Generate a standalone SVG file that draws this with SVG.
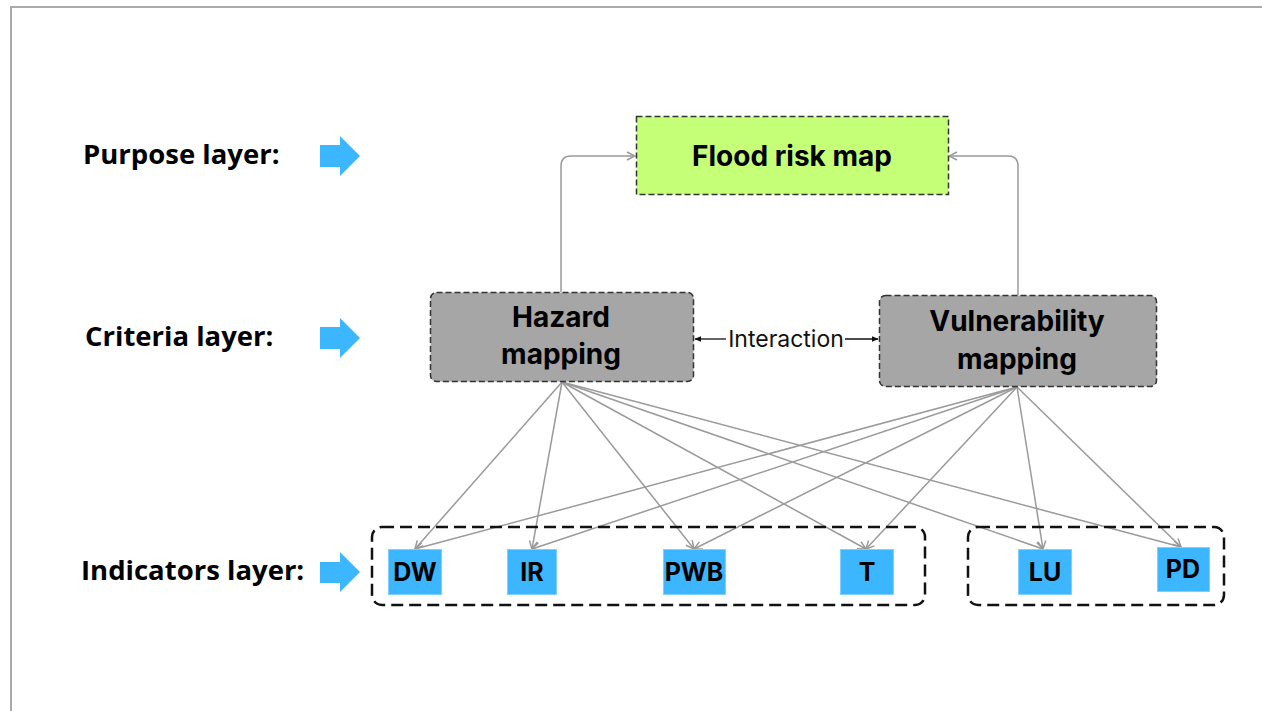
<svg xmlns="http://www.w3.org/2000/svg" width="1262" height="711" viewBox="0 0 1262 711">
  <style>
    .layer { font-family: "Open Sans", "Noto Sans", sans-serif; font-weight: 700; font-size: 27.5px; fill: #000; }
    .boxtxt { font-family: Inter, "Liberation Sans", sans-serif; font-weight: 700; font-size: 28px; fill: #000; text-anchor: middle; }
    .ind { fill: #3bb6ff; stroke: #7fd0ff; stroke-width: 1; }
    .indtxt { font-family: Inter, "Liberation Sans", sans-serif; font-weight: 700; font-size: 25px; fill: #000; text-anchor: middle; }
    .crit { fill: #a6a6a6; stroke: #333; stroke-width: 1.5; stroke-dasharray: 6 3; }
    .group { fill: none; stroke: #111; stroke-width: 2.5; stroke-dasharray: 12 6; }
    .link { fill: none; stroke: #9a9a9a; stroke-width: 1.5; marker-end: url(#grayHead); }
    .inter { fill: none; stroke: #111; stroke-width: 1.3; }
    .pointer { fill: #3bb6ff; }
  </style>
  <defs>
    <marker id="grayHead" viewBox="0 0 10 10" refX="9" refY="5" markerWidth="10" markerHeight="10" markerUnits="userSpaceOnUse" orient="auto">
      <path d="M1,1 L9,5 L1,9" fill="none" stroke="#9a9a9a" stroke-width="1.5"/>
    </marker>
    <marker id="blackHead" viewBox="0 0 10 10" refX="9" refY="5" markerWidth="7" markerHeight="7" markerUnits="userSpaceOnUse" orient="auto">
      <path d="M0,1 L10,5 L0,9 Z" fill="#111"/>
    </marker>
  </defs>

  <rect width="1262" height="711" fill="#fff"/>
  <!-- page frame -->
  <path d="M11,711 V7 H1262" fill="none" stroke="#aaa" stroke-width="2"/>

  <!-- layer labels with pointer arrows -->
  <g id="label-purpose">
    <text class="layer" x="83" y="164">Purpose layer:</text>
    <path class="pointer" d="M320,145 H340 V136 L360,156 L340,176 V167 H320 Z"/>
  </g>
  <g id="label-criteria">
    <text class="layer" x="85" y="346">Criteria layer:</text>
    <path class="pointer" d="M320,327 H340 V318 L360,338 L340,358 V349 H320 Z"/>
  </g>
  <g id="label-indicators">
    <text class="layer" x="81" y="580">Indicators layer:</text>
    <path class="pointer" d="M320,562 H340 V552 L360,572 L340,592 V583 H320 Z"/>
  </g>

  <!-- connectors -->
  <g id="connectors">
    <path class="link" d="M561,292 V166 Q561,156 571,156 H635"/>
    <path class="link" d="M1018,295 V166 Q1018,156 1008,156 H949"/>

    <line class="inter" x1="726" y1="339" x2="695" y2="339" marker-end="url(#blackHead)"/>
    <line class="inter" x1="845" y1="339" x2="878" y2="339" marker-end="url(#blackHead)"/>
    <text x="786" y="347" text-anchor="middle" font-family="Inter, 'Liberation Sans', sans-serif" font-size="23" fill="#111">Interaction</text>

    <!-- hazard to indicators -->
    <line class="link" x1="562" y1="382" x2="415" y2="549"/>
    <line class="link" x1="562" y1="382" x2="532" y2="549"/>
    <line class="link" x1="562" y1="382" x2="694" y2="549"/>
    <line class="link" x1="562" y1="382" x2="866" y2="549"/>
    <line class="link" x1="562" y1="382" x2="1043" y2="549"/>
    <line class="link" x1="562" y1="382" x2="1181" y2="547"/>
    <!-- vulnerability to indicators -->
    <line class="link" x1="1017" y1="387" x2="415" y2="549"/>
    <line class="link" x1="1017" y1="387" x2="532" y2="549"/>
    <line class="link" x1="1017" y1="387" x2="694" y2="549"/>
    <line class="link" x1="1017" y1="387" x2="866" y2="549"/>
    <line class="link" x1="1017" y1="387" x2="1043" y2="549"/>
    <line class="link" x1="1017" y1="387" x2="1181" y2="547"/>
  </g>

  <!-- purpose node -->
  <g id="flood-risk-map">
    <rect x="636.5" y="116.5" width="312" height="78" fill="#c5ff78" stroke="#333" stroke-width="1.5" stroke-dasharray="6 3"/>
    <text class="boxtxt" x="792" y="166" font-size="30">Flood risk map</text>
  </g>

  <!-- criteria nodes -->
  <g id="hazard-mapping">
    <rect class="crit" x="430.5" y="292.5" width="263" height="89" rx="6"/>
    <text class="boxtxt" x="561" y="327">Hazard</text>
    <text class="boxtxt" x="561" y="364">mapping</text>
  </g>
  <g id="vulnerability-mapping">
    <rect class="crit" x="879.5" y="295.5" width="277" height="91" rx="6"/>
    <text class="boxtxt" x="1017" y="331">Vulnerability</text>
    <text class="boxtxt" x="1017" y="369">mapping</text>
  </g>

  <!-- indicator groups -->
  <g id="indicator-group-1">
    <rect class="group" x="372" y="527" width="553" height="78" rx="10"/>
  </g>
  <g id="indicator-group-2">
    <rect class="group" x="968" y="527" width="256" height="78" rx="10"/>
  </g>

  <!-- indicators -->
  <g id="ind-DW">
    <rect class="ind" x="388.5" y="549.5" width="53" height="45"/>
    <text class="indtxt" x="415" y="581">DW</text>
  </g>
  <g id="ind-IR">
    <rect class="ind" x="507.5" y="549.5" width="49" height="45"/>
    <text class="indtxt" x="532" y="581">IR</text>
  </g>
  <g id="ind-PWB">
    <rect class="ind" x="663.5" y="549.5" width="62" height="45"/>
    <text class="indtxt" x="694" y="581">PWB</text>
  </g>
  <g id="ind-T">
    <rect class="ind" x="840.5" y="549.5" width="53" height="45"/>
    <text class="indtxt" x="867" y="581">T</text>
  </g>
  <g id="ind-LU">
    <rect class="ind" x="1018.5" y="549.5" width="53" height="45"/>
    <text class="indtxt" x="1045" y="581">LU</text>
  </g>
  <g id="ind-PD">
    <rect class="ind" x="1157.5" y="547.5" width="52" height="44"/>
    <text class="indtxt" x="1183" y="578">PD</text>
  </g>
</svg>
